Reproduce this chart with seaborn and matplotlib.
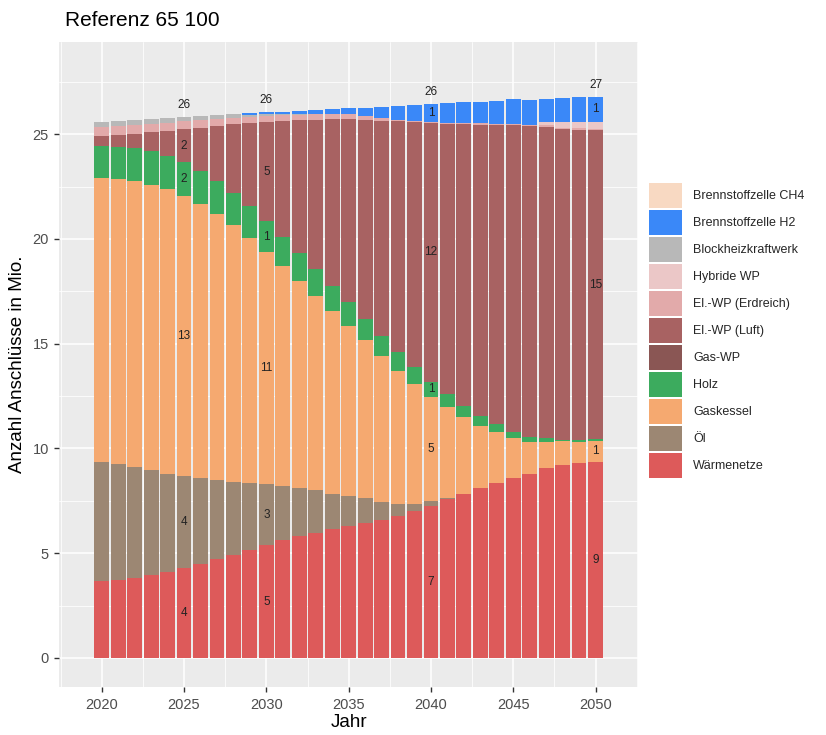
import matplotlib
matplotlib.use("Agg")
import matplotlib.pyplot as plt
from matplotlib.ticker import MultipleLocator
import numpy as np
import pandas as pd
import seaborn as sns

# values in Mio. connections
years = list(range(2020, 2051))

waermenetze = [3.68, 3.74, 3.83, 3.98, 4.12, 4.31, 4.50, 4.71, 4.93, 5.17, 5.39,
               5.62, 5.81, 5.97, 6.15, 6.28, 6.44, 6.57, 6.79, 7.02, 7.27,
               7.59, 7.84, 8.10, 8.34, 8.58, 8.77, 9.05, 9.23, 9.31, 9.37]
oel = [5.69, 5.52, 5.29, 4.98, 4.68, 4.36, 4.09, 3.79, 3.49, 3.20, 2.90,
       2.59, 2.30, 2.03, 1.69, 1.45, 1.18, 0.89, 0.58, 0.35, 0.21,
       0.06, 0, 0, 0, 0, 0, 0, 0, 0, 0]
gaskessel = [13.56, 13.60, 13.65, 13.63, 13.57, 13.40, 13.08, 12.71, 12.23, 11.69, 11.10,
             10.50, 9.89, 9.29, 8.74, 8.13, 7.54, 6.94, 6.34, 5.72, 4.99,
             4.35, 3.65, 2.97, 2.43, 1.92, 1.56, 1.28, 1.11, 1.02, 1.00]
holz = [1.51, 1.55, 1.57, 1.59, 1.59, 1.59, 1.59, 1.57, 1.53, 1.50, 1.45,
        1.37, 1.32, 1.26, 1.18, 1.12, 1.02, 0.97, 0.88, 0.78, 0.72,
        0.61, 0.55, 0.48, 0.38, 0.30, 0.22, 0.16, 0.08, 0.08, 0.07]
gas_wp = [0, 0, 0, 0, 0, 0, 0, 0, 0, 0, 0,
          0, 0, 0, 0, 0, 0, 0, 0, 0, 0,
          0, 0, 0, 0, 0, 0, 0, 0, 0, 0]
wp_luft = [0.46, 0.55, 0.69, 0.93, 1.21, 1.59, 2.05, 2.61, 3.29, 3.96, 4.74,
           5.54, 6.34, 7.14, 7.95, 8.76, 9.51, 10.28, 11.03, 11.71, 12.33,
           12.88, 13.43, 13.91, 14.29, 14.63, 14.83, 14.86, 14.82, 14.81, 14.76]
wp_erdreich = [0.45, 0.45, 0.43, 0.40, 0.38, 0.37, 0.36, 0.35, 0.32, 0.28, 0.29,
               0.29, 0.27, 0.25, 0.25, 0.23, 0.18, 0.14, 0.07, 0.06, 0.06,
               0.06, 0.05, 0.06, 0.06, 0.06, 0.08, 0.07, 0.07, 0.07, 0.07]
hybride_wp = [0, 0, 0, 0, 0, 0, 0, 0, 0, 0, 0,
              0, 0, 0, 0, 0, 0, 0, 0, 0, 0,
              0, 0, 0, 0, 0, 0, 0.15, 0.29, 0.31, 0.33]
bhkw = [0.24, 0.24, 0.24, 0.23, 0.21, 0.19, 0.19, 0.18, 0.17, 0.12, 0.08,
        0.05, 0.03, 0.02, 0, 0, 0, 0, 0, 0, 0,
        0, 0, 0, 0, 0, 0, 0, 0, 0, 0]
bz_h2 = [0, 0, 0, 0, 0, 0, 0, 0, 0, 0.08, 0.10,
         0.12, 0.17, 0.18, 0.26, 0.27, 0.40, 0.53, 0.67, 0.77, 0.86,
         0.92, 1.00, 1.02, 1.10, 1.17, 1.19, 1.11, 1.12, 1.16, 1.18]
bz_ch4 = [0, 0, 0, 0, 0, 0, 0, 0, 0, 0, 0,
          0, 0, 0, 0, 0, 0, 0, 0, 0, 0,
          0, 0, 0, 0, 0, 0, 0, 0, 0, 0]

# legend order (top to bottom); seaborn stacks the last level at the bottom
categories = ["Brennstoffzelle CH4", "Brennstoffzelle H2", "Blockheizkraftwerk",
              "Hybride WP", "El.-WP (Erdreich)", "El.-WP (Luft)", "Gas-WP",
              "Holz", "Gaskessel", "Öl", "Wärmenetze"]
series = [bz_ch4, bz_h2, bhkw, hybride_wp, wp_erdreich, wp_luft, gas_wp,
          holz, gaskessel, oel, waermenetze]
colors = ["#F8D9C2", "#3A88F8", "#B8B8B8", "#EBC7C7", "#E2AAAA", "#A86262",
          "#8A5654", "#3CAB5E", "#F5A970", "#9C8773", "#DD5A5A"]
label_years = [2025, 2030, 2040, 2050]

rows = []
for cat, vals in zip(categories, series):
    for y, v in zip(years, vals):
        rows.append({"Jahr": y, "Typ": cat, "Wert": v})
df = pd.DataFrame(rows)

sns.set_theme(style="darkgrid", rc={"axes.facecolor": "#EBEBEB",
                                    "grid.color": "white",
                                    "figure.facecolor": "white"})
plt.rcParams["font.family"] = ["Liberation Sans", "DejaVu Sans"]

fig = plt.figure(figsize=(8.26, 7.35), dpi=100)
ax = fig.add_axes([59.3 / 826, 1 - 687.3 / 735, (638 - 59.3) / 826, (687.3 - 42) / 735])

sns.histplot(data=df, x="Jahr", weights="Wert", hue="Typ", hue_order=categories,
             palette=dict(zip(categories, colors)), multiple="stack",
             discrete=True, shrink=0.9, alpha=1, linewidth=0, ax=ax)

# segment labels and totals
stack = np.array(series[::-1])
tops = np.cumsum(stack, axis=0)
for y in label_years:
    i = years.index(y)
    for k in range(stack.shape[0]):
        v = stack[k, i]
        if round(v) >= 1:
            ax.text(y, tops[k, i] - v / 2, str(int(round(v))), ha="center",
                    va="center", fontsize=8.5, color="#222222")
    ax.text(y, tops[-1, i] + 0.28, str(int(round(tops[-1, i]))), ha="center",
            va="bottom", fontsize=8.5, color="#222222")

ax.set_xlim(2017.42, 2052.58)
ax.set_ylim(-1.4, 29.4)
ax.set_xticks([2020, 2025, 2030, 2035, 2040, 2045, 2050])
ax.set_yticks([0, 5, 10, 15, 20, 25])
ax.xaxis.set_minor_locator(MultipleLocator(5, offset=2.5))
ax.yaxis.set_minor_locator(MultipleLocator(5, offset=2.5))
ax.grid(which="major", color="white", linewidth=1.1)
ax.grid(which="minor", color="white", linewidth=0.55)
ax.set_axisbelow(True)
ax.tick_params(which="major", bottom=True, left=True, length=3.5, width=1,
               color="#333333", labelcolor="#4D4D4D", labelsize=10.5, pad=4)
ax.tick_params(which="minor", length=0)
for s in ax.spines.values():
    s.set_visible(False)

ax.set_xlabel("Jahr", fontsize=13.5, color="black")
ax.set_ylabel("Anzahl Anschlüsse in Mio.", fontsize=13.5, color="black")
ax.xaxis.set_label_coords(0.5, (687.3 - 714) / (687.3 - 42))
ax.yaxis.set_label_coords((26 - 59.3) / (638 - 59.3), 0.5)

fig.text(65 / 826, 1 - 20 / 735, "Referenz 65 100", fontsize=15, va="center",
         ha="left", color="black")

sns.move_legend(ax, "upper left", bbox_to_anchor=(649 / 826, 1 - 183 / 735),
                bbox_transform=fig.transFigure, title=None, frameon=False,
                fontsize=9, handlelength=2.64, handleheight=2.64,
                labelspacing=0.2, handletextpad=0.88, borderpad=0,
                borderaxespad=0)

fig.savefig("out.png", dpi=100)
